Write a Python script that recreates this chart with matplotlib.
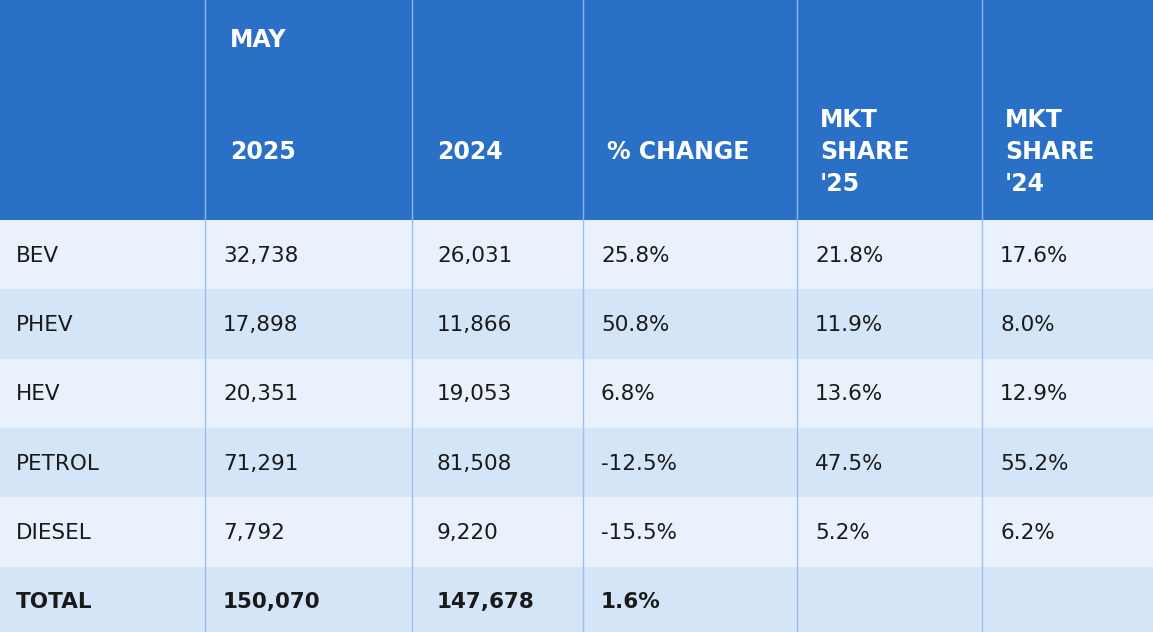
import matplotlib
matplotlib.use("Agg")
import matplotlib.pyplot as plt
from matplotlib.patches import Rectangle

categories = ["BEV", "PHEV", "HEV", "PETROL", "DIESEL", "TOTAL"]
sales_2025 = ["32,738", "17,898", "20,351", "71,291", "7,792", "150,070"]
sales_2024 = ["26,031", "11,866", "19,053", "81,508", "9,220", "147,678"]
pct_change = ["25.8%", "50.8%", "6.8%", "-12.5%", "-15.5%", "1.6%"]
share_25 = ["21.8%", "11.9%", "13.6%", "47.5%", "5.2%", ""]
share_24 = ["17.6%", "8.0%", "12.9%", "55.2%", "6.2%", ""]

W, H = 1153, 632
col_edges = [0, 205, 412, 583, 797, 982, 1153]
header_h = 220
row_h = 69.3

fig = plt.figure(figsize=(W/100, H/100), dpi=100)
ax = fig.add_axes([0, 0, 1, 1])
ax.set_xlim(0, W); ax.set_ylim(H, 0); ax.axis("off")

blue = "#2a70c6"
ax.add_patch(Rectangle((0, 0), W, header_h, color=blue, lw=0))
fills = ["#e8f1fc", "#d5e5f8"]
for i in range(len(categories)):
    y = header_h + i*row_h
    ax.add_patch(Rectangle((0, y), W, row_h + 1, color=fills[i % 2], lw=0))
for x in col_edges[1:-1]:
    ax.plot([x, x], [0, header_h], color="#8fb4e6", lw=1)
    ax.plot([x, x], [header_h, H], color="#9fc0e6", lw=1)

hk = dict(color="white", fontsize=17, fontweight="heavy", va="center", ha="left")
ax.text(230, 40, "MAY", **hk)
ax.text(230, 152, "2025", **hk)
ax.text(437, 152, "2024", **hk)
ax.text(607, 152, "% CHANGE", **hk)
for x, yr in [(820, "'25"), (1005, "'24")]:
    for y, t in zip([120, 152, 184], ["MKT", "SHARE", yr]):
        ax.text(x, y, t, **hk)

offs = [16, 223, 437, 601, 815, 1000]
for i, cols in enumerate(zip(categories, sales_2025, sales_2024, pct_change, share_25, share_24)):
    y = header_h + i*row_h + row_h/2 + 1
    bold = categories[i] == "TOTAL"
    for x, t in zip(offs, cols):
        ax.text(x, y, t, fontsize=15.5, color="#1a1a1a",
                fontweight="heavy" if bold else "normal", va="center", ha="left")

fig.savefig("out.png", dpi=100)
